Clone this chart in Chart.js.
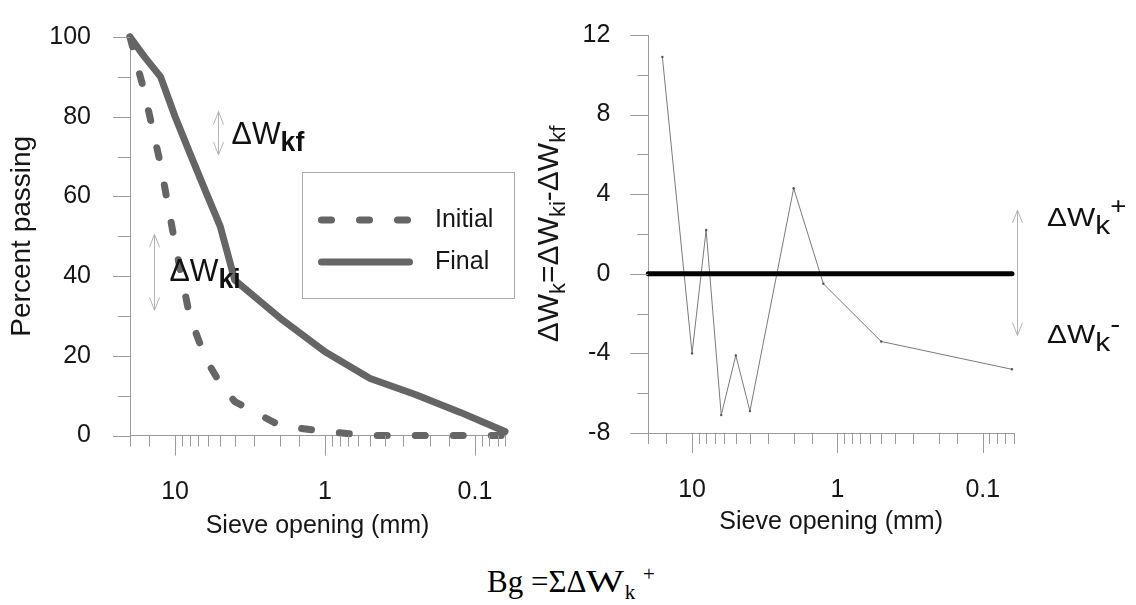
<!DOCTYPE html>
<html>
<head>
<meta charset="utf-8">
<script src="https://cdn.jsdelivr.net/npm/chart.js@4.4.1/dist/chart.umd.min.js"></script>
<style>
  body { margin: 0; background: #fff; width: 1136px; height: 605px; position: relative; overflow: hidden; }
  #left { position: absolute; left: 0; top: 0; }
  #right { position: absolute; left: 520px; top: 0; }
  #formula { position: absolute; left: 487px; top: 566px; font-family: 'Liberation Serif', 'Times New Roman', serif;
             font-size: 31px; line-height: 31px; color: #000; white-space: nowrap; }
  #formula .wide { display: inline-block; transform: scaleX(1.3); transform-origin: left; margin-right: 9px; }
  #formula .sub { position: relative; top: 7px; font-size: 21px; }
  #formula .sup { position: relative; top: -11px; font-size: 21px; }
</style>
</head>
<body>
<canvas id="left" width="530" height="560"></canvas>
<canvas id="right" width="616" height="560"></canvas>
<div id="formula">Bg =ΣΔ<span class="wide">W</span><span class="sub">k</span> <span class="sup">+</span></div>
<script>
// ---------------- Données ----------------
const sieveSizes = [20, 16, 12.5, 10, 8, 6.3, 5, 4, 2, 1, 0.5, 0.25, 0.125, 0.063];
const initialPassing = [100, 86, 68, 48, 30, 19.5, 13, 8.5, 2.5, 1, 0, 0, 0, 0];
const finalPassing = [100, 95, 90, 80, 71, 61.5, 52.5, 39, 29.5, 21, 14.3, 10.3, 5.8, 1];

const diffSieves = [16, 10, 8, 6.3, 5, 4, 2, 1.25, 0.5, 0.063];
const deltaW = [10.9, -4, 2.2, -7.1, -4.1, -6.9, 4.3, -0.5, -3.4, -4.8];
const zeroLineSieves = [20, 0.063];
const zeroLineValues = [0, 0];

// ticks qui portent une étiquette
const sieveTickLabels = [10, 1, 0.1];
const passingTickLabels = [0, 20, 40, 60, 80, 100];
const deltaTickLabels = [-8, -4, 0, 4, 8, 12];

// ---------------- Styles communs ----------------
const FONT = "'Liberation Sans', Arial, sans-serif";
const TEXT = '#161616';
const AXIS_GREY = '#9a9a9a';
const NOTE_GREY = '#b4b4b4';
const CURVE_GREY = '#656565';

function toXY(xs, ys) {
    return xs.map((x, i) => ({ x: x, y: ys[i] }));
}

function findTick(list, v) {
    return list.find(t => (t === 0 ? Math.abs(v) < 1e-9 : Math.abs(t - v) <= 1e-6 * Math.abs(t)));
}

function tickLabel(list) {
    return v => {
        const t = findTick(list, v);
        return t === undefined ? '' : String(t);
    };
}

// petits traits de graduation (majeurs plus longs que les mineurs)
function tickMarksPlugin(cfg) {
    return {
        id: 'tickMarks',
        afterDraw(chart) {
            const { ctx, chartArea: area, scales: { x, y } } = chart;
            ctx.save();
            ctx.strokeStyle = AXIS_GREY;
            ctx.lineWidth = 1;
            ctx.beginPath();
            x.ticks.forEach(t => {
                const px = Math.round(x.getPixelForValue(t.value)) + 0.5;
                const len = findTick(cfg.xLabels, t.value) !== undefined ? cfg.xMajor : cfg.xMinor;
                ctx.moveTo(px, area.bottom);
                ctx.lineTo(px, area.bottom + len);
            });
            y.ticks.forEach(t => {
                const py = Math.round(y.getPixelForValue(t.value)) + 0.5;
                const len = findTick(cfg.yLabels, t.value) !== undefined ? cfg.yMajor : cfg.yMinor;
                ctx.moveTo(area.left, py);
                ctx.lineTo(area.left - len, py);
            });
            ctx.stroke();
            ctx.restore();
        }
    };
}

function arrowHead(ctx, x, yTip, dir) {
    // dir = -1 : pointe vers le haut, +1 : vers le bas
    ctx.moveTo(x - 5, yTip - dir * 13);
    ctx.lineTo(x, yTip);
    ctx.lineTo(x + 5, yTip - dir * 13);
}

// texte avec indices / exposants, éventuellement étiré horizontalement
function drawRich(ctx, x, y, parts, scaleX) {
    ctx.save();
    ctx.translate(x, y);
    ctx.scale(scaleX || 1, 1);
    ctx.textBaseline = 'alphabetic';
    ctx.textAlign = 'left';
    let cx = 0;
    parts.forEach(p => {
        ctx.font = p.font;
        ctx.fillText(p.text, cx, p.dy || 0);
        cx += ctx.measureText(p.text).width;
    });
    ctx.restore();
}

function richWidth(ctx, parts) {
    let w = 0;
    parts.forEach(p => { ctx.font = p.font; w += ctx.measureText(p.text).width; });
    return w;
}

// ---------------- Graphique de gauche : courbes granulométriques ----------------
const leftNotes = {
    id: 'leftNotes',
    afterDraw(chart) {
        const { ctx, scales: { x, y } } = chart;
        ctx.save();

        // légende encadrée
        ctx.strokeStyle = '#a8a8a8';
        ctx.lineWidth = 1;
        ctx.strokeRect(302.5, 172.5, 212, 126);
        chart.data.datasets.forEach((ds, i) => {
            const rowY = 220 + i * 42;
            ctx.beginPath();
            ctx.strokeStyle = ds.borderColor;
            ctx.lineWidth = ds.borderWidth;
            ctx.lineCap = 'round';
            ctx.setLineDash(ds.borderDash || []);
            ctx.moveTo(321.5, rowY);
            ctx.lineTo(409.5, rowY);
            ctx.stroke();
            ctx.setLineDash([]);
            ctx.fillStyle = TEXT;
            ctx.font = '25px ' + FONT;
            ctx.textBaseline = 'middle';
            ctx.fillText(ds.label, 435, rowY);
        });

        // flèches ΔWkf et ΔWki
        ctx.strokeStyle = NOTE_GREY;
        ctx.lineWidth = 1;
        ctx.lineCap = 'butt';
        [[5.2, 70.4, 81.3], [13.8, 31.4, 50.5]].forEach(a => {
            const px = Math.round(x.getPixelForValue(a[0])) + 0.5;
            const yLow = y.getPixelForValue(a[1]);
            const yHigh = y.getPixelForValue(a[2]);
            ctx.beginPath();
            ctx.moveTo(px, yLow);
            ctx.lineTo(px, yHigh);
            arrowHead(ctx, px, yHigh, -1);
            arrowHead(ctx, px, yLow, 1);
            ctx.stroke();
        });

        ctx.fillStyle = '#111';
        drawRich(ctx, x.getPixelForValue(4.2), y.getPixelForValue(73.2), [
            { text: 'ΔW', font: '32px ' + FONT },
            { text: 'kf', font: 'bold 28px ' + FONT, dy: 7 }
        ], 0.95);
        drawRich(ctx, x.getPixelForValue(10.9), y.getPixelForValue(38.7), [
            { text: 'ΔW', font: '32px ' + FONT },
            { text: 'ki', font: 'bold 28px ' + FONT, dy: 7 }
        ], 0.95);
        ctx.restore();
    }
};

new Chart(document.getElementById('left'), {
    type: 'line',
    data: {
        datasets: [{
            label: 'Initial',
            data: toXY(sieveSizes, initialPassing),
            borderColor: CURVE_GREY,
            borderWidth: 7,
            borderDash: [10, 28],
            borderCapStyle: 'round',
            borderJoinStyle: 'round',
            pointRadius: 0,
            tension: 0,
            clip: false
        }, {
            label: 'Final',
            data: toXY(sieveSizes, finalPassing),
            borderColor: CURVE_GREY,
            borderWidth: 7,
            borderCapStyle: 'round',
            borderJoinStyle: 'round',
            pointRadius: 0,
            tension: 0,
            clip: false
        }]
    },
    options: {
        responsive: false,
        animation: false,
        layout: { padding: { left: 0, top: 25, right: 25, bottom: 19 } },
        plugins: { legend: { display: false }, tooltip: { enabled: false } },
        scales: {
            x: {
                type: 'logarithmic',
                reverse: true,
                min: 0.063,
                max: 20,
                grid: { drawOnChartArea: false, tickLength: 20, color: 'rgba(0,0,0,0)' },
                border: { color: AXIS_GREY },
                ticks: {
                    autoSkip: false, maxRotation: 0, padding: 22, color: TEXT,
                    font: { family: FONT, size: 25 },
                    callback: tickLabel(sieveTickLabels)
                },
                title: {
                    display: true, text: 'Sieve opening (mm)', color: TEXT,
                    font: { family: FONT, size: 25 }, padding: { top: 0, bottom: 0 }
                },
                afterFit: s => { s.height = 105.5; }
            },
            y: {
                min: 0,
                max: 100,
                grid: { drawOnChartArea: false, tickLength: 17, color: 'rgba(0,0,0,0)' },
                border: { color: AXIS_GREY },
                ticks: {
                    stepSize: 10, padding: 22, color: TEXT,
                    font: { family: FONT, size: 25 },
                    callback: tickLabel(passingTickLabels)
                },
                title: {
                    display: true, text: 'Percent passing', color: TEXT,
                    font: { family: FONT, size: 28 }, padding: { top: 5, bottom: 0 }
                },
                afterFit: s => { s.width = 130; }
            }
        }
    },
    plugins: [tickMarksPlugin({ xLabels: sieveTickLabels, yLabels: passingTickLabels, xMajor: 20, xMinor: 11, yMajor: 17, yMinor: 12 }), leftNotes]
});

// ---------------- Graphique de droite : ΔWk ----------------
const rightNotes = {
    id: 'rightNotes',
    afterDraw(chart) {
        const { ctx, chartArea: area, scales: { y } } = chart;
        ctx.save();

        // titre de l'axe vertical avec indices
        const titleParts = [
            { text: 'ΔW', font: '30px ' + FONT },
            { text: 'k', font: '22px ' + FONT, dy: 7 },
            { text: '=ΔW', font: '30px ' + FONT },
            { text: 'ki', font: '22px ' + FONT, dy: 7 },
            { text: '-ΔW', font: '30px ' + FONT },
            { text: 'kf', font: '22px ' + FONT, dy: 7 }
        ];
        const w = richWidth(ctx, titleParts);
        ctx.save();
        ctx.translate(38, (area.top + area.bottom) / 2);
        ctx.rotate(-Math.PI / 2);
        ctx.fillStyle = TEXT;
        drawRich(ctx, -w / 2, 0, titleParts, 1);
        ctx.restore();

        // flèches ΔWk+ / ΔWk-
        const ax = Math.round(area.right + 3) + 0.5;
        const yUp = y.getPixelForValue(3.2);
        const yDown = y.getPixelForValue(-3.1);
        ctx.strokeStyle = NOTE_GREY;
        ctx.lineWidth = 1;
        ctx.beginPath();
        ctx.moveTo(ax, yDown);
        ctx.lineTo(ax, yUp);
        arrowHead(ctx, ax, yUp, -1);
        arrowHead(ctx, ax, yDown, 1);
        ctx.stroke();

        ctx.fillStyle = '#111';
        drawRich(ctx, area.right + 33, y.getPixelForValue(2.4), [
            { text: 'ΔW', font: '26px ' + FONT },
            { text: 'k', font: '26px ' + FONT, dy: 8 },
            { text: '+', font: '24px ' + FONT, dy: -12 }
        ], 1.15);
        drawRich(ctx, area.right + 33, y.getPixelForValue(-3.5), [
            { text: 'ΔW', font: '26px ' + FONT },
            { text: 'k', font: '26px ' + FONT, dy: 8 },
            { text: '-', font: '26px ' + FONT, dy: -10 }
        ], 1.15);
        ctx.restore();
    }
};

new Chart(document.getElementById('right'), {
    type: 'line',
    data: {
        datasets: [{
            label: 'Zero',
            data: toXY(zeroLineSieves, zeroLineValues),
            borderColor: '#000',
            borderWidth: 5,
            borderCapStyle: 'round',
            pointRadius: 0,
            clip: false
        }, {
            label: 'ΔWk',
            data: toXY(diffSieves, deltaW),
            borderColor: '#7a7a7a',
            borderWidth: 1,
            pointRadius: 1.2,
            pointBorderWidth: 0,
            pointBackgroundColor: '#555',
            tension: 0,
            clip: false
        }]
    },
    options: {
        responsive: false,
        animation: false,
        layout: { padding: { left: 0, top: 32.7, right: 122, bottom: 23 } },
        plugins: { legend: { display: false }, tooltip: { enabled: false } },
        scales: {
            x: {
                type: 'logarithmic',
                reverse: true,
                min: 0.061,
                max: 20,
                grid: { drawOnChartArea: false, tickLength: 20, color: 'rgba(0,0,0,0)' },
                border: { color: AXIS_GREY },
                ticks: {
                    autoSkip: false, maxRotation: 0, padding: 22, color: TEXT,
                    font: { family: FONT, size: 25 },
                    callback: tickLabel(sieveTickLabels)
                },
                title: {
                    display: true, text: 'Sieve opening (mm)', color: TEXT,
                    font: { family: FONT, size: 25 }, padding: { top: 0, bottom: 0 }
                },
                afterFit: s => { s.height = 104; }
            },
            y: {
                min: -8,
                max: 12,
                grid: { drawOnChartArea: false, tickLength: 18, color: 'rgba(0,0,0,0)' },
                border: { color: AXIS_GREY },
                ticks: {
                    stepSize: 2, padding: 20, color: TEXT,
                    font: { family: FONT, size: 25 },
                    callback: tickLabel(deltaTickLabels)
                },
                afterFit: s => { s.width = 128.3; }
            }
        }
    },
    plugins: [tickMarksPlugin({ xLabels: sieveTickLabels, yLabels: deltaTickLabels, xMajor: 20, xMinor: 11, yMajor: 18, yMinor: 11 }), rightNotes]
});
</script>
</body>
</html>
